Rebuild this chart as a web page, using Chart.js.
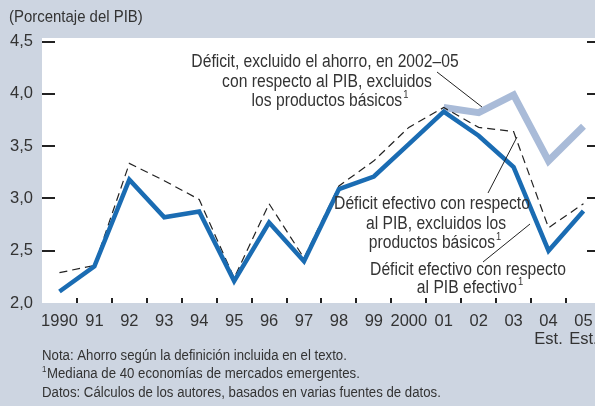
<!DOCTYPE html>
<html>
<head>
<meta charset="utf-8">
<script src="https://cdn.jsdelivr.net/npm/chart.js@4.4.0/dist/chart.umd.min.js"></script>
<style>
  html, body { margin: 0; padding: 0; background: #cdd5e1; overflow: hidden; }
  #wrap { width: 595px; height: 406px; }
</style>
</head>
<body>
<div id="wrap"><canvas id="grafico" width="595" height="406"></canvas></div>
<script>
// Datos (porcentaje del PIB)
const categorias = ["1990", "91", "92", "93", "94", "95", "96", "97", "98", "99", "2000", "01", "02", "03", "04", "05"];
const estimados = ["04", "05"];
const deficitEfectivo = [2.11, 2.35, 3.18, 2.82, 2.875, 2.21, 2.77, 2.40, 3.09, 3.21, 3.52, 3.83, 3.60, 3.30, 2.50, 2.88];
const deficitSinBasicos = [2.29, 2.36, 3.335, 3.17, 2.99, 2.24, 2.95, 2.43, 3.12, 3.36, 3.68, 3.87, 3.68, 3.64, 2.72, 2.95];
const deficitSinAhorro = [null, null, null, null, null, null, null, null, null, null, null, 3.87, 3.82, 3.99, 3.36, 3.69];
const ticksY = [2.0, 2.5, 3.0, 3.5, 4.0, 4.5];

const FUENTE = '"Liberation Sans", Arial, sans-serif';
const ESTRECHO = 0.87; // compresión horizontal del texto (tipo condensado)
const TEXTO = "#333333";
const FONDO = "#cdd5e1";

const etiquetasX = categorias.map(c => estimados.includes(c) ? [c, "Est."] : c);

function puntos(serie) {
  return serie.map((v, i) => ({ x: i, y: v }));
}

// fondo gris y área del gráfico en blanco
const fondo = {
  id: "fondo",
  beforeDraw(chart) {
    const { ctx, chartArea: a } = chart;
    ctx.save();
    ctx.fillStyle = FONDO;
    ctx.fillRect(0, 0, chart.width, chart.height);
    ctx.fillStyle = "#ffffff";
    ctx.fillRect(a.left, a.top, a.right - a.left, a.bottom - a.top);
    ctx.restore();
  }
};

// marcas de los ejes (hacia dentro)
const marcas = {
  id: "marcas",
  afterDatasetsDraw(chart) {
    const { ctx, chartArea: a, scales } = chart;
    ctx.save();
    ctx.strokeStyle = "#222222";
    ctx.lineWidth = 2;
    ticksY.forEach(v => {
      if (v === 2.0) return;
      const y = Math.round(scales.y.getPixelForValue(v));
      ctx.beginPath();
      ctx.moveTo(a.left, y); ctx.lineTo(a.left + 13, y);
      ctx.moveTo(a.right - 8, y); ctx.lineTo(a.right, y);
      ctx.stroke();
    });
    for (let i = 0; i < categorias.length - 1; i++) {
      const x = Math.round(scales.x.getPixelForValue(i + 0.5));
      ctx.beginPath();
      ctx.moveTo(x, a.bottom); ctx.lineTo(x, a.bottom - 5);
      ctx.stroke();
    }
    ctx.restore();
  }
};

// texto estrecho: x es el borde izquierdo
function texto(ctx, t, x, y, tam) {
  ctx.save();
  ctx.font = tam + "px " + FUENTE;
  ctx.textAlign = "left";
  ctx.translate(x, y);
  ctx.scale(ESTRECHO, 1);
  ctx.fillText(t, 0, 0);
  const w = ctx.measureText(t).width * ESTRECHO;
  ctx.restore();
  return w;
}

function ancho(ctx, t, tam) {
  ctx.font = tam + "px " + FUENTE;
  return ctx.measureText(t).width * ESTRECHO;
}

function linea(ctx, t, x, y, sup, tam) {
  const w = ancho(ctx, t, tam);
  const ws = sup ? ancho(ctx, "1", tam * 0.6) + 1 : 0;
  const x0 = x - (w + ws) / 2;
  texto(ctx, t, x0, y, tam);
  if (sup) texto(ctx, "1", x0 + w + 1, y - tam * 0.45, tam * 0.6);
}

// textos de las series, guías y notas
const rotulos = {
  id: "rotulos",
  afterDraw(chart) {
    const { ctx } = chart;
    ctx.save();
    ctx.fillStyle = TEXTO;
    ctx.textBaseline = "alphabetic";

    texto(ctx, "(Porcentaje del PIB)", 9, 22, 17.2);

    const ta = 18;
    linea(ctx, "Déficit, excluido el ahorro, en 2002–05", 325, 67, false, ta);
    linea(ctx, "con respecto al PIB, excluidos", 327, 87, false, ta);
    linea(ctx, "los productos básicos", 330, 106, true, ta);

    linea(ctx, "Déficit efectivo con respecto", 432, 209, false, ta);
    linea(ctx, "al PIB, excluidos los", 436, 229, false, ta);
    linea(ctx, "productos básicos", 435, 248, true, ta);

    linea(ctx, "Déficit efectivo con respecto", 468, 275, false, ta);
    linea(ctx, "al PIB efectivo", 470, 293, true, ta);

    ctx.strokeStyle = "#222222";
    ctx.lineWidth = 1;
    ctx.beginPath();
    ctx.moveTo(437, 72); ctx.lineTo(482, 107);
    ctx.moveTo(488, 193); ctx.lineTo(517, 137);
    ctx.moveTo(483, 262); ctx.lineTo(530, 224);
    ctx.stroke();

    const tn = 15.2;
    texto(ctx, "Nota: Ahorro según la definición incluida en el texto.", 42, 360, tn);
    texto(ctx, "1", 42, 372, tn * 0.6);
    texto(ctx, "Mediana de 40 economías de mercados emergentes.", 47, 378, tn);
    texto(ctx, "Datos: Cálculos de los autores, basados en varias fuentes de datos.", 42, 397, tn);
    ctx.restore();
  }
};

new Chart(document.getElementById("grafico"), {
  type: "line",
  data: {
    datasets: [
      {
        label: "Déficit efectivo con respecto al PIB efectivo",
        data: puntos(deficitEfectivo),
        borderColor: "#1a6cb3",
        borderWidth: 4.5,
        order: 1
      },
      {
        label: "Déficit efectivo con respecto al PIB, excluidos los productos básicos",
        data: puntos(deficitSinBasicos),
        borderColor: "#222222",
        borderWidth: 1.2,
        borderDash: [8, 5],
        order: 2
      },
      {
        label: "Déficit, excluido el ahorro, en 2002–05 con respecto al PIB, excluidos los productos básicos",
        data: puntos(deficitSinAhorro),
        borderColor: "#a9bbd8",
        borderWidth: 7,
        order: 3
      }
    ]
  },
  options: {
    responsive: false,
    animation: false,
    devicePixelRatio: 1,
    layout: { padding: { top: 38, right: 0, left: 0, bottom: 0 } },
    elements: {
      line: { tension: 0, borderJoinStyle: "miter", borderCapStyle: "butt", fill: false },
      point: { radius: 0 }
    },
    plugins: {
      legend: { display: false },
      tooltip: { enabled: false }
    },
    scales: {
      x: {
        type: "linear",
        min: -0.5,
        max: 15.33,
        grid: { display: false, drawTicks: false },
        border: { display: false },
        afterBuildTicks: s => { s.ticks = categorias.map((_, i) => ({ value: i })); },
        afterFit: s => { s.height = 103; s.paddingLeft = 0; s.paddingRight = 0; },
        ticks: {
          autoSkip: false,
          maxRotation: 0,
          padding: 10,
          color: TEXTO,
          font: { family: FUENTE, size: 16.5, lineHeight: 1.05 },
          callback: v => etiquetasX[v]
        }
      },
      y: {
        min: 2.0,
        max: 4.535,
        grid: { display: false, drawTicks: false },
        border: { display: false },
        afterBuildTicks: s => { s.ticks = ticksY.map(v => ({ value: v })); },
        afterFit: s => { s.width = 42; s.paddingTop = 0; s.paddingBottom = 0; },
        ticks: {
          padding: 9,
          color: TEXTO,
          font: { family: FUENTE, size: 16.5 },
          callback: v => v.toFixed(1).replace(".", ",")
        }
      }
    }
  },
  plugins: [fondo, marcas, rotulos]
});
</script>
</body>
</html>
